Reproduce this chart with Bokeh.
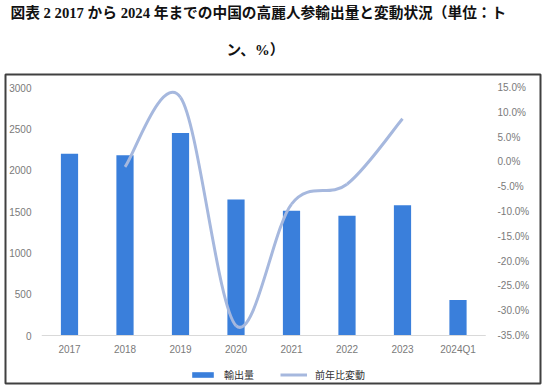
from bokeh.plotting import figure
from bokeh.models import (Range1d, LinearAxis, FixedTicker, PrintfTickFormatter, Title,
                          Legend, LegendItem, ColumnDataSource)
from bokeh.embed import file_html
from bokeh.resources import INLINE

# ---- data ----
categories = ["2017", "2018", "2019", "2020", "2021", "2022", "2023", "2024Q1"]
export_tons = [2200, 2180, 2450, 1645, 1510, 1450, 1575, 430]
yoy_years = ["2018", "2019", "2020", "2021", "2022", "2023"]
yoy_pct = [-1.0, 13.0, -33.0, -8.5, -4.5, 8.7]
left_ticks = [0, 500, 1000, 1500, 2000, 2500, 3000]
right_ticks = [-35, -30, -25, -20, -15, -10, -5, 0, 5, 10, 15]
title_lines = ["図表 2 2017 から 2024 年までの中国の高麗人参輸出量と変動状況（単位：ト", "ン、%）"]
bar_name = "輸出量"
line_name = "前年比変動"

BAR_COLOR = "#3a7fdb"
LINE_COLOR = "#a6b8de"
TICK_COLOR = "#7a7a7a"
TICK_FONT = "Liberation Sans"
TITLE_FONT = "Liberation Serif, Noto Sans CJK JP"

# ---- layout (pixels) ----
W, H = 545, 390
B_LEFT, B_RIGHT, B_TOP, B_BOTTOM = 5, 5, 74, 7      # box = plot frame
frame_w = W - B_LEFT - B_RIGHT
frame_h = H - B_TOP - B_BOTTOM
pad_top, pad_bottom = 13, 48                        # data area inside the box
cat_first_px, cat_step_px = 64, 55.5                # first category centre from box left

def padded(lo, hi):
    inner = frame_h - pad_top - pad_bottom
    per = (hi - lo) / inner
    return Range1d(lo - pad_bottom * per, hi + pad_top * per)

x_start = -cat_first_px / cat_step_px
x_end = x_start + frame_w / cat_step_px

p = figure(width=W, height=H, output_backend="svg", toolbar_location=None,
           x_range=Range1d(x_start, x_end), y_range=padded(left_ticks[0], left_ticks[-1]),
           min_border_left=B_LEFT, min_border_right=B_RIGHT, min_border_top=B_TOP,
           min_border_bottom=B_BOTTOM, background_fill_color="white", border_fill_color="white")
p.outline_line_color = "#404040"
p.outline_line_width = 2
p.grid.visible = False
p.extra_y_ranges = {"pct": padded(right_ticks[0], right_ticks[-1])}

xs = list(range(len(categories)))
src = ColumnDataSource(dict(x=xs, top=export_tons))
bars = p.vbar(x="x", top="top", width=0.31, bottom=0, source=src,
              fill_color=BAR_COLOR, line_color=None)

# category baseline
p.segment(x0=[-0.5], y0=[0], x1=[len(categories) - 0.5], y1=[0],
          line_color="#d9d9d9", line_width=1)

# smooth (Excel-like) curve through the yoy points
px = [categories.index(c) for c in yoy_years]
py = yoy_pct
n = len(px)
segs = dict(x0=[], y0=[], x1=[], y1=[], cx0=[], cy0=[], cx1=[], cy1=[])
for i in range(n - 1):
    a, b = max(i - 1, 0), min(i + 2, n - 1)
    segs["x0"].append(px[i]); segs["y0"].append(py[i])
    segs["x1"].append(px[i + 1]); segs["y1"].append(py[i + 1])
    segs["cx0"].append(px[i] + (px[i + 1] - px[a]) / 6)
    segs["cy0"].append(py[i] + (py[i + 1] - py[a]) / 6)
    segs["cx1"].append(px[i + 1] - (px[b] - px[i]) / 6)
    segs["cy1"].append(py[i + 1] - (py[b] - py[i]) / 6)
curve = p.bezier(source=ColumnDataSource(segs), x0="x0", y0="y0", x1="x1", y1="y1",
                 cx0="cx0", cy0="cy0", cx1="cx1", cy1="cy1",
                 y_range_name="pct", line_color=LINE_COLOR, line_width=3)

# axes (labels drawn inside the box)
ra = LinearAxis(y_range_name="pct", ticker=FixedTicker(ticks=right_ticks),
                formatter=PrintfTickFormatter(format="%.1f%%"))
p.add_layout(ra, "right")
p.xaxis.ticker = FixedTicker(ticks=xs)
p.xaxis.major_label_overrides = {i: c for i, c in enumerate(categories)}
p.yaxis[0].ticker = FixedTicker(ticks=left_ticks)
for ax in (p.xaxis[0], p.yaxis[0], ra):
    ax.axis_line_color = None
    ax.major_tick_line_color = None
    ax.minor_tick_line_color = None
    ax.major_tick_out = 0
    ax.major_tick_in = 0
    ax.minor_tick_out = 0
    ax.major_label_text_color = TICK_COLOR
    ax.major_label_text_font = TICK_FONT
    ax.major_label_text_font_size = "10px"
p.xaxis[0].major_label_standoff = -40
p.yaxis[0].major_label_standoff = -26
ra.major_label_standoff = -43

# title (two lines)
p.add_layout(Title(text=title_lines[1], align="left", offset=221, standoff=34,
                   text_font=TITLE_FONT, text_font_size="14.7px", text_font_style="bold",
                   text_color="#111111"), "above")
p.add_layout(Title(text=title_lines[0], align="left", offset=5, standoff=4,
                   text_font=TITLE_FONT, text_font_size="14.7px", text_font_style="bold",
                   text_color="#111111"), "above")

# legend
lg = Legend(items=[LegendItem(label=bar_name, renderers=[bars]),
                   LegendItem(label=line_name, renderers=[curve])],
            location=(184, 1), orientation="horizontal", glyph_width=27, glyph_height=7,
            label_standoff=8, spacing=26, padding=0, margin=0, border_line_color=None,
            background_fill_alpha=0, label_text_font_size="10px", label_text_color="#333333",
            label_text_font="Noto Sans CJK JP", label_height=12)
p.add_layout(lg, "center")

open("out.html", "w").write(file_html(p, INLINE))
